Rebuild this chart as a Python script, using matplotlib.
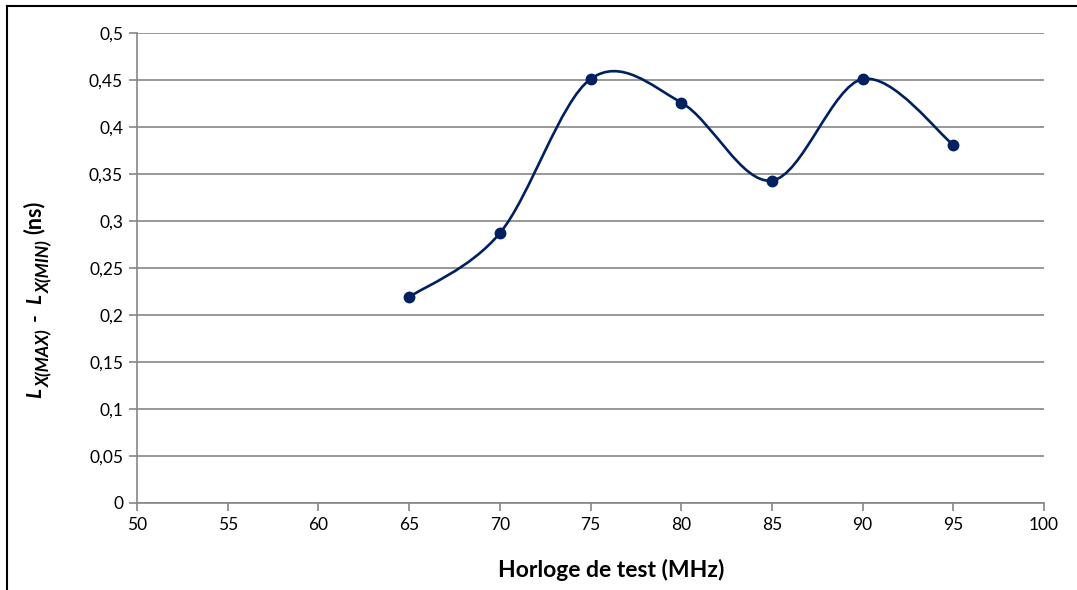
import numpy as np
import matplotlib.pyplot as plt
from matplotlib.path import Path
from matplotlib.patches import PathPatch
from matplotlib.lines import Line2D

plt.rcParams['font.family'] = ['Lato', 'DejaVu Sans']

# Data
freq = [65, 70, 75, 80, 85, 90, 95]
delta = [0.219, 0.287, 0.451, 0.426, 0.343, 0.451, 0.381]
x_ticks = [50, 55, 60, 65, 70, 75, 80, 85, 90, 95, 100]
y_ticks = [0, 0.05, 0.1, 0.15, 0.2, 0.25, 0.3, 0.35, 0.4, 0.45, 0.5]

navy = '#002060'
grey = '#868686'
W, H = 1077, 590

fig = plt.figure(figsize=(W / 100, H / 100), dpi=100)
ax = fig.add_axes([0.1272, 0.1475, 0.8422, 0.7966])

# smoothed line (Excel-style bezier through the points)
pts = np.column_stack([freq, delta])
n = len(pts)
verts = [pts[0]]
codes = [Path.MOVETO]
for i in range(n - 1):
    p0 = pts[i - 1] if i > 0 else pts[i]
    p1 = pts[i]
    p2 = pts[i + 1]
    p3 = pts[i + 2] if i + 2 < n else pts[i + 1]
    c1 = p1 + (p2 - p0) / 6
    c2 = p2 - (p3 - p1) / 6
    verts += [c1, c2, p2]
    codes += [Path.CURVE4] * 3
ax.add_patch(PathPatch(Path(verts, codes), facecolor='none', edgecolor=navy,
                       lw=1.9, zorder=3, capstyle='round', joinstyle='round'))
ax.plot(freq, delta, 'o', color=navy, markersize=7.5, zorder=4)

ax.set_xlim(50, 100)
ax.set_ylim(0, 0.5)
ax.set_xticks(x_ticks)
ax.set_yticks(y_ticks)
ax.set_yticklabels([('%g' % v).replace('.', ',') for v in y_ticks])
ax.yaxis.grid(True, color=grey, lw=1.2)
ax.set_axisbelow(True)
for s in ['top', 'right']:
    ax.spines[s].set_visible(False)
for s in ['left', 'bottom']:
    ax.spines[s].set_color(grey)
    ax.spines[s].set_linewidth(1.2)
ax.tick_params(axis='both', colors=grey, length=6, width=1.2, labelsize=12.5,
               labelcolor='black', pad=4)

ax.set_xlabel('Horloge de test (MHz)', fontsize=16.5, fontweight='bold')
ax.xaxis.set_label_coords(0.5225, -0.12)

# y label built piece by piece (big subscripts like the original equation)
pieces = [('L', 15, 'italic', 0, 1),
          ('X(MAX)', 12.5, 'italic', 9, 8),
          ('-', 15, 'normal', 0, 9),
          ('L', 15, 'italic', 0, 1),
          ('X(MIN)', 12.5, 'italic', 9, 6),
          ('(ns)', 15.5, 'normal', 0, 0)]
renderer = fig.canvas.get_renderer()
ypos = H - 398
for txt, size, style, dx, gap in pieces:
    t = fig.text((41 + dx) / W, ypos / H, txt, rotation=90, rotation_mode='anchor',
                 ha='left', va='baseline', fontsize=size, fontweight='bold',
                 fontstyle=style)
    ypos = t.get_window_extent(renderer).y1 + gap

# frame pieces visible at top and left
fig.add_artist(Line2D([7 / W, 1], [1 - 6 / H, 1 - 6 / H], color='black', lw=1.5))
fig.add_artist(Line2D([7 / W, 7 / W], [0, 1 - 6 / H], color='black', lw=1.5))

fig.savefig('out.png', dpi=100)
